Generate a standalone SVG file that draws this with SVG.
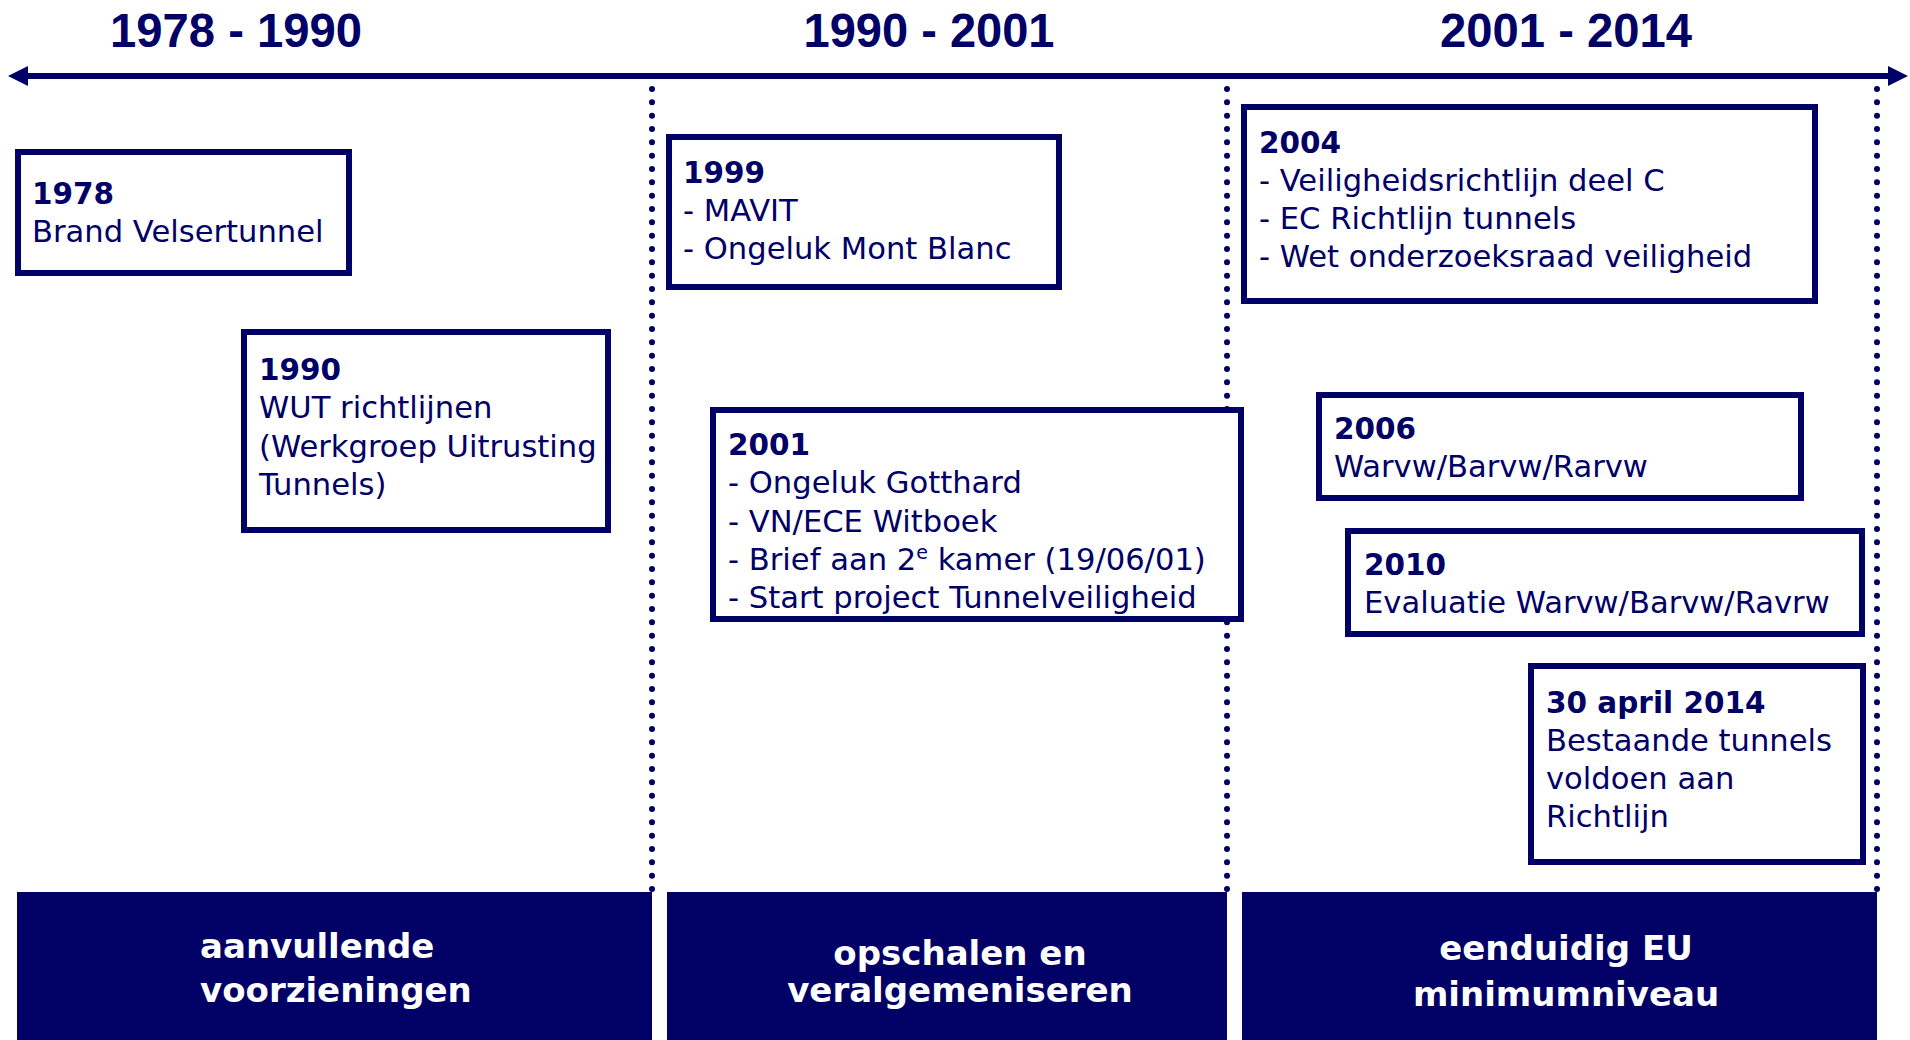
<svg xmlns="http://www.w3.org/2000/svg" width="1910" height="1040" viewBox="0 0 1910 1040">
<style>
  .bg { fill: #ffffff; }
  .box { fill: #ffffff; stroke: #000066; stroke-width: 6; }
  .txt { font-family: "DejaVu Sans", "Liberation Sans", sans-serif; font-size: 30.6px; fill: #000066; }
  .yr { font-weight: bold; font-size: 29.5px; }
  .title { font-family: "Liberation Sans", Arial, sans-serif; font-weight: bold; font-size: 48px; fill: #000066; text-anchor: middle; }
  .band { fill: #000066; }
  .bandtxt { font-family: "DejaVu Sans", "Liberation Sans", sans-serif; font-weight: bold; font-size: 34px; fill: #ffffff; }
  .axis { stroke: #000066; stroke-width: 6; fill: none; }
  .div { stroke: #000066; stroke-width: 6; stroke-linecap: round; stroke-dasharray: 0 13.333; fill: none; }
</style>
<defs>
  <marker id="ah" markerUnits="userSpaceOnUse" markerWidth="20" markerHeight="20" refX="0" refY="10" orient="auto-start-reverse" viewBox="0 0 20 20">
    <path d="M0,0 L20,10 L0,20 Z" fill="#000066"/>
  </marker>
</defs>
<rect class="bg" x="0" y="0" width="1910" height="1040"/>

<g id="titles">
  <text class="title" x="236" y="47" textLength="252" lengthAdjust="spacingAndGlyphs">1978 - 1990</text>
  <text class="title" x="929" y="47" textLength="251" lengthAdjust="spacingAndGlyphs">1990 - 2001</text>
  <text class="title" x="1566" y="47" textLength="252" lengthAdjust="spacingAndGlyphs">2001 - 2014</text>
</g>

<g id="connectors">
  <line class="axis" x1="28" y1="76" x2="1888" y2="76" marker-start="url(#ah)" marker-end="url(#ah)"/>
  <line class="div" x1="652" y1="89" x2="652" y2="890"/>
  <line class="div" x1="1227" y1="89" x2="1227" y2="890"/>
  <line class="div" x1="1877" y1="89" x2="1877" y2="890"/>
</g>

<g id="band-1978-1990">
  <rect class="band" x="17" y="892" width="635" height="148"/>
  <text class="bandtxt" x="200" y="958">aanvullende</text>
  <text class="bandtxt" x="200" y="1002">voorzieningen</text>
</g>
<g id="band-1990-2001">
  <rect class="band" x="667" y="892" width="560" height="148"/>
  <text class="bandtxt" x="960" y="965" text-anchor="middle">opschalen en</text>
  <text class="bandtxt" x="960" y="1002" text-anchor="middle">veralgemeniseren</text>
</g>
<g id="band-2001-2014">
  <rect class="band" x="1242" y="892" width="635" height="148"/>
  <text class="bandtxt" x="1566" y="960" text-anchor="middle">eenduidig EU</text>
  <text class="bandtxt" x="1566" y="1006" text-anchor="middle">minimumniveau</text>
</g>

<g id="node-1978">
  <rect class="box" x="18" y="152" width="331" height="121"/>
  <text class="txt yr" x="32" y="204">1978</text>
  <text class="txt" x="32" y="242">Brand Velsertunnel</text>
</g>

<g id="node-1990">
  <rect class="box" x="244" y="332" width="364" height="198"/>
  <text class="txt yr" x="259" y="380">1990</text>
  <text class="txt" x="259" y="418">WUT richtlijnen</text>
  <text class="txt" x="259" y="457">(Werkgroep Uitrusting</text>
  <text class="txt" x="259" y="495">Tunnels)</text>
</g>

<g id="node-1999">
  <rect class="box" x="669" y="137" width="390" height="150"/>
  <text class="txt yr" x="683" y="183">1999</text>
  <text class="txt" x="683" y="221">- MAVIT</text>
  <text class="txt" x="683" y="259">- Ongeluk Mont Blanc</text>
</g>

<g id="node-2001">
  <rect class="box" x="713" y="410" width="528" height="209"/>
  <text class="txt yr" x="728" y="455">2001</text>
  <text class="txt" x="728" y="493">- Ongeluk Gotthard</text>
  <text class="txt" x="728" y="532">- VN/ECE Witboek</text>
  <text class="txt" x="728" y="570">- Brief aan 2<tspan font-size="19" dy="-11">e</tspan><tspan dy="11"> kamer (19/06/01)</tspan></text>
  <text class="txt" x="728" y="608">- Start project Tunnelveiligheid</text>
</g>

<g id="node-2004">
  <rect class="box" x="1244" y="107" width="571" height="194"/>
  <text class="txt yr" x="1259" y="153">2004</text>
  <text class="txt" x="1259" y="191">- Veiligheidsrichtlijn deel C</text>
  <text class="txt" x="1259" y="229">- EC Richtlijn tunnels</text>
  <text class="txt" x="1259" y="267">- Wet onderzoeksraad veiligheid</text>
</g>

<g id="node-2006">
  <rect class="box" x="1319" y="395" width="482" height="103"/>
  <text class="txt yr" x="1334" y="439">2006</text>
  <text class="txt" x="1334" y="477">Warvw/Barvw/Rarvw</text>
</g>

<g id="node-2010">
  <rect class="box" x="1348" y="531" width="514" height="103"/>
  <text class="txt yr" x="1364" y="575">2010</text>
  <text class="txt" x="1364" y="613">Evaluatie Warvw/Barvw/Ravrw</text>
</g>

<g id="node-2014">
  <rect class="box" x="1531" y="666" width="332" height="196"/>
  <text class="txt yr" x="1546" y="713">30 april 2014</text>
  <text class="txt" x="1546" y="751">Bestaande tunnels</text>
  <text class="txt" x="1546" y="789">voldoen aan</text>
  <text class="txt" x="1546" y="827">Richtlijn</text>
</g>
</svg>
